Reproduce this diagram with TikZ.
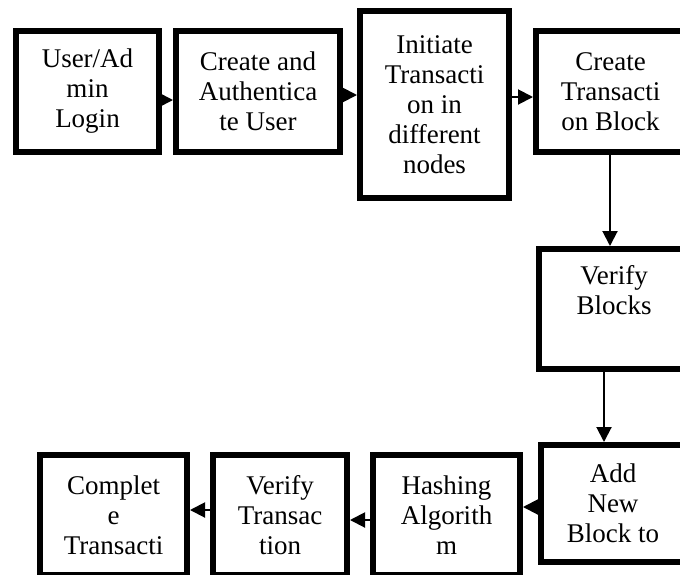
\documentclass[tikz,border=0pt]{standalone}
\usepackage{fontspec}
\setmainfont{Liberation Serif}
\usetikzlibrary{arrows.meta}

\begin{document}
\begin{tikzpicture}[x=0.5pt,y=-0.5pt,
        box/.style={draw,line width=3pt,align=center,inner sep=0pt,
            font=\fontsize{13.5}{15}\selectfont},
        arr/.style={-{Triangle[length=7.5pt,width=7.5pt]},line width=1pt}]
            \useasboundingbox (0,0) rectangle (680,574);
            \clip (0,0) rectangle (680,574);

            \node[box,minimum width=71.5pt,minimum height=60.5pt] (Login) at (87.5,91.5) {User/Ad\\min\\Login};
            \node[box,minimum width=82pt,minimum height=60.5pt] (Authenticate) at (258,91.5) {Create and\\Authentica\\te User};
            \node[box,minimum width=74.5pt,minimum height=93.5pt] (Initiate) at (434.5,104.5) {Initiate\\Transacti\\on in\\different\\nodes};
            \node[box,minimum width=74.5pt,minimum height=60.5pt] (Create Block) at (610.5,91.5) {Create\\Transacti\\on Block};
            \node[box,minimum width=75pt,minimum height=60pt] (Verify Blocks) at (614,309) {Verify\\Blocks\\\strut};
            \node[box,minimum width=72pt,minimum height=58.5pt] (Add Block) at (613,503.5) {Add\\New\\Block to};
            \node[box,minimum width=73.5pt,minimum height=60pt] (Hashing) at (446.5,515) {Hashing\\Algorith\\m};
            \node[box,minimum width=67pt,minimum height=60pt] (Verify Transaction) at (280,515) {Verify\\Transac\\tion};
            \node[box,minimum width=73.5pt,minimum height=60pt] (Complete) at (113.5,515) {Complet\\e\\Transacti};

            \draw[arr] ([yshift=-4.25pt]Login.east) to ([yshift=-4.25pt]Authenticate.west);
            \draw[arr] ([yshift=-1.75pt]Authenticate.east) to ([yshift=4.75pt]Initiate.west);
            \draw[arr] ([yshift=3.75pt]Initiate.east) to ([yshift=-2.75pt]Create Block.west);
            \draw[arr] ([xshift=-0.25pt]Create Block.south) to ([xshift=-2pt]Verify Blocks.north);
            \draw[arr] ([xshift=-5pt]Verify Blocks.south) to ([xshift=-4.5pt]Add Block.north);
            \draw[arr] ([yshift=-1.75pt]Add Block.west) to ([yshift=4pt]Hashing.east);
            \draw[arr] ([yshift=-2.5pt]Hashing.west) to ([yshift=-2.5pt]Verify Transaction.east);
            \draw[arr] ([yshift=2.5pt]Verify Transaction.west) to ([yshift=2.5pt]Complete.east);

        \end{tikzpicture}
\end{document}
